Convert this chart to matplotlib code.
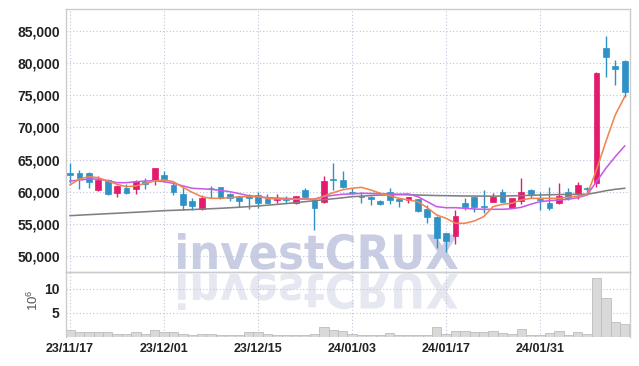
import matplotlib
matplotlib.use('Agg')
import matplotlib.pyplot as plt
import numpy as np
from matplotlib.textpath import TextPath
from matplotlib.patches import PathPatch
from matplotlib.font_manager import FontProperties
import matplotlib.transforms as mtransforms

# daily candles, 23/11/17 .. 24/02
opens = [62950, 62950, 62950, 60200, 61800, 59750, 60620, 60370, 61450, 61800,
         62600, 61040, 59600, 58550, 57260, 60600, 60680, 59600, 59130, 59380,
         59490, 58820, 58710, 59070, 58290, 60260, 58710, 58450, 61850, 61820,
         59900, 59300, 59200, 58550, 59900, 58860, 58710, 58860, 57300, 56110,
         53530, 53160, 58200, 59220, 57820, 58450, 60000, 57510, 58600, 60260,
         58800, 58290, 58200, 59900, 59640, 60530, 61300, 82300, 79550, 80330]
highs = [64400, 63370, 63100, 62500, 61900, 61000, 61200, 61800, 62080, 63700,
         63220, 61400, 60780, 58970, 59490, 60890, 60750, 59850, 59250, 59600,
         60000, 59600, 59600, 59330, 59400, 60620, 59070, 62440, 64510, 63220,
         60500, 60000, 59400, 58700, 60530, 58950, 59130, 58900, 57930, 56200,
         53600, 57150, 58970, 59250, 60260, 59750, 60420, 59000, 62080, 60400,
         60000, 60680, 61300, 60530, 61550, 60680, 78660, 84200, 80480, 80500]
lows = [61300, 60420, 60620, 60100, 59550, 59130, 59600, 59640, 60370, 61040,
        61550, 59490, 57150, 57150, 57200, 58970, 58850, 58600, 57670, 57260,
        57420, 58200, 58290, 58290, 58040, 58860, 54040, 58200, 60260, 60600,
        59600, 58200, 57930, 58000, 58040, 57670, 58200, 56900, 55090, 51200,
        50670, 51820, 57150, 56890, 56640, 58400, 58400, 57400, 58040, 58970,
        57150, 57150, 58100, 58710, 58820, 59490, 60680, 77800, 76600, 74770]
closes = [62600, 62080, 61550, 61800, 59650, 60900, 59750, 61700, 61150, 63640,
          61970, 59900, 57930, 57820, 58970, 60500, 58970, 58970, 58600, 59070,
          58290, 58290, 59070, 58710, 59330, 59130, 57510, 61660, 61750, 60780,
          59750, 59200, 58900, 58130, 58710, 58550, 59130, 57050, 56110, 52750,
          52330, 56270, 57670, 57670, 57670, 59220, 58450, 58970, 59900, 59650,
          58650, 57420, 59380, 59070, 61040, 60370, 78500, 81000, 79130, 75550]
volume = [1.4, 1.05, 1.05, 1.05, 1.05, 0.7, 0.7, 1.05, 0.7, 1.45,
          1.05, 1.05, 0.7, 0.5, 0.7, 0.7, 0.5, 0.5, 0.5, 1.05,
          1.05, 0.6, 0.5, 0.5, 0.5, 0.5, 0.6, 2.1, 1.5, 1.3,
          0.6, 0.5, 0.35, 0.5, 0.8, 0.35, 0.35, 0.5, 0.35, 2.1,
          0.7, 1.25, 1.25, 1.05, 1.05, 1.25, 0.8, 0.7, 1.65, 0.5,
          0.5, 0.8, 1.25, 0.5, 1.05, 0.7, 12.3, 8.1, 3.1, 2.7]

ma_short = [61050, 61980, 62330, 62180, 61660, 61150, 60780, 60890, 61300, 61660,
            61820, 61550, 60680, 59900, 59220, 58970, 58970, 59070, 59220, 59220,
            59220, 58970, 58860, 58860, 58820, 58860, 58820, 59330, 59850, 60300,
            60530, 60680, 60260, 59750, 59380, 58970, 58710, 58450, 57510, 56380,
            55860, 55090, 55090, 55440, 56110, 57670, 58040, 58200, 58710, 58970,
            58970, 58970, 58970, 59130, 59330, 59490, 63370, 67780, 71930, 74770]
ma_mid = [61660, 61800, 61980, 61950, 61710, 61400, 61400, 61550, 61650, 61710,
          61550, 61300, 60900, 60530, 60450, 60370, 60200, 60000, 59700, 59380,
          59250, 59070, 59000, 58950, 58900, 58860, 58820, 59220, 59440, 59600,
          59650, 59750, 59720, 59700, 59650, 59600, 59650, 59220, 58450, 57670,
          57510, 57510, 57420, 57300, 57260, 57260, 57260, 57350, 57570, 58050,
          58450, 58600, 58700, 58820, 59070, 59490, 61550, 63640, 65440, 67110]
ma_long = [56270, 56350, 56430, 56500, 56580, 56650, 56730, 56800, 56880, 56960,
           57050, 57100, 57160, 57220, 57290, 57350, 57420, 57500, 57580, 57680,
           57780, 57900, 58020, 58150, 58300, 58450, 58600, 58750, 58900, 59050,
           59220, 59300, 59400, 59480, 59520, 59540, 59520, 59480, 59440, 59400,
           59380, 59350, 59330, 59320, 59310, 59300, 59320, 59350, 59390, 59430,
           59480, 59520, 59550, 59580, 59600, 59600, 59850, 60150, 60370, 60530]

tick_idx = [0, 10, 20, 30, 40, 50]
tick_labels = ['23/11/17', '23/12/01', '23/12/15', '24/01/03', '24/01/17', '24/01/31']
price_ticks = [50000, 55000, 60000, 65000, 70000, 75000, 80000, 85000]
vol_ticks = [5, 10]

up_c = '#e31b6d'
down_c = '#2e92c6'
grid_c = '#bfc5da'
plt.rcParams['font.family'] = ['Liberation Sans', 'DejaVu Sans']

W, H = 639, 366
fig = plt.figure(figsize=(W / 100, H / 100), dpi=100)
fig.patch.set_facecolor('white')
ax = fig.add_axes([66 / W, (H - 272) / H, 564 / W, 263 / H])
axv = fig.add_axes([66 / W, (H - 337) / H, 564 / W, 65 / H], sharex=ax)
for a in (ax, axv):
    a.set_facecolor('none')
    for s in a.spines.values():
        s.set_color('#cccccc')
        s.set_linewidth(1.0)
axv.spines['bottom'].set_visible(False)

# watermark + its reflection
fp = FontProperties(family='DejaVu Sans', weight='bold')
tp = TextPath((0, 0), 'investCRUX', size=1, prop=fp)
bb = tp.get_extents()
sx = 280 / (bb.x1 - bb.x0)
sy = 36 / bb.y1
for sgn, base, col in [(1, H - 269, '#c8cde3'), (-1, H - 274, '#e6e8f1')]:
    tr = mtransforms.Affine2D().translate(-bb.x0, 0).scale(sx / W, sgn * sy / H) \
        .translate(178 / W, base / H) + fig.transFigure
    fig.add_artist(PathPatch(tp, transform=tr, facecolor=col, edgecolor='none', zorder=-1))

x = np.arange(len(closes))
for i in x:
    up = closes[i] >= opens[i]
    c = up_c if up else down_c
    ax.vlines(i, lows[i], highs[i], color=c, linewidth=1.0, zorder=2)
    lo = min(opens[i], closes[i])
    h = max(abs(closes[i] - opens[i]), 150)
    ax.bar(i, h, bottom=lo, width=0.62, color=c, edgecolor=c, linewidth=0.5, zorder=3)

ax.plot(x, ma_long, color='#808080', linewidth=1.15, zorder=4)
ax.plot(x, ma_mid, color='#c95ce6', linewidth=1.15, zorder=4)
ax.plot(x, ma_short, color='#f08550', linewidth=1.15, zorder=4)

axv.bar(x, volume, width=1.0, color='#d9d9d9', edgecolor='#bdbdbd', linewidth=0.6, zorder=2)

ax.set_xlim(-0.43, 59.57)
ax.set_ylim(47510, 88410)
axv.set_ylim(0, 13.54)

ax.set_yticks(price_ticks)
ax.set_yticklabels([f'{v:,}' for v in price_ticks])
axv.set_yticks(vol_ticks)
axv.set_xticks(tick_idx)
axv.set_xticklabels(tick_labels)
ax.tick_params(axis='x', labelbottom=False, length=0)
ax.tick_params(axis='y', length=0, pad=4.5, labelsize=10, labelcolor='#222222')
axv.tick_params(axis='y', length=0, pad=4.5, labelsize=10, labelcolor='#222222')
axv.tick_params(axis='x', length=0, pad=4, labelsize=9, labelcolor='#222222')
for lab in ax.get_yticklabels() + axv.get_yticklabels() + axv.get_xticklabels():
    lab.set_fontweight('bold')

for a in (ax, axv):
    a.grid(True, color=grid_c, linestyle=(0, (1, 2)), linewidth=0.8, zorder=0)
    a.set_axisbelow(True)

fig.text(33 / W, 1 - 300 / H, r'$\mathregular{10^6}$', rotation=90, ha='center', va='center',
         fontsize=9.5, color='#555555')

fig.savefig('out.png', dpi=100)
